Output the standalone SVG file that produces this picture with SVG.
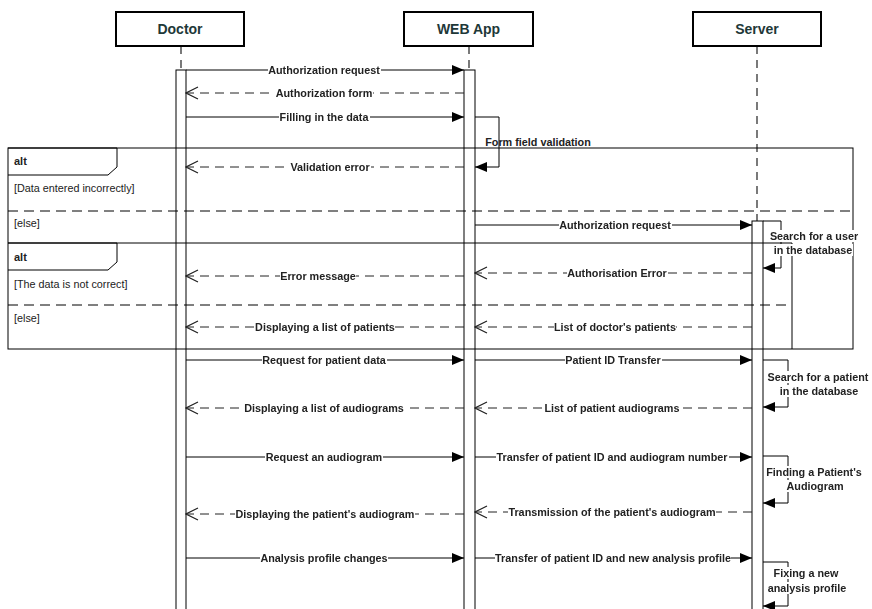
<svg xmlns="http://www.w3.org/2000/svg" width="872" height="609" viewBox="0 0 872 609">
<style>
.hdr{fill:#fff;stroke:#000;stroke-width:2}
.hl{font-family:"Liberation Sans",Arial,sans-serif;font-size:14px;font-weight:bold;fill:#1e3838;text-anchor:middle}
.lab{font-family:"Liberation Sans",Arial,sans-serif;font-size:10.8px;font-weight:bold;fill:#222;text-anchor:middle;filter:url(#bg)}
.note{font-family:"Liberation Sans",Arial,sans-serif;font-size:10.8px;font-weight:bold;fill:#222;text-anchor:middle;filter:url(#bg)}
.ft{font-family:"Liberation Sans",Arial,sans-serif;font-size:10.8px;fill:#222}
.fb{font-family:"Liberation Sans",Arial,sans-serif;font-size:11px;font-weight:bold;fill:#222}
.life{stroke:#222;stroke-width:1.2;stroke-dasharray:8 6;fill:none}
.bar{fill:#fff;stroke:#000;stroke-width:1}
.sync{stroke:#000;stroke-width:1;fill:none;marker-end:url(#fa)}
.ret{stroke:#222;stroke-width:1;fill:none;stroke-dasharray:9 6;marker-end:url(#oa)}
.frame{fill:none;stroke:#000;stroke-width:1}
.sep{fill:none;stroke:#000;stroke-width:1;stroke-dasharray:10 6}
</style>
<defs>
<filter id="bg" x="0" y="0" width="1" height="1" color-interpolation-filters="sRGB">
<feFlood flood-color="#fff"/>
<feComposite in="SourceGraphic" operator="over"/>
</filter>
<marker id="fa" markerUnits="userSpaceOnUse" markerWidth="12" markerHeight="10" viewBox="0 0 12 10" refX="12" refY="5" orient="auto">
<path d="M0,0 L12,5 L0,10 z" fill="#000"/>
</marker>
<marker id="oa" markerUnits="userSpaceOnUse" markerWidth="14" markerHeight="14" viewBox="-1 -1 14 14" refX="12" refY="6" orient="auto">
<path d="M0,0 L12,6 L0,12" fill="none" stroke="#222" stroke-width="1.2"/>
</marker>
</defs>
<rect width="872" height="609" fill="#fff"/>

<g id="lifelines">
<line class="life" x1="181" y1="46" x2="181" y2="70"/>
<line class="life" x1="469" y1="46" x2="469" y2="70"/>
<line class="life" x1="757" y1="46" x2="757" y2="221"/>
</g>

<g id="doctor">
<rect class="hdr" x="116" y="12" width="128" height="34"/>
<text class="hl" x="180" y="34">Doctor</text>
<rect class="bar" x="176" y="70" width="10" height="545"/>
</g>
<g id="webapp">
<rect class="hdr" x="404" y="12" width="129" height="34"/>
<text class="hl" x="468.5" y="34">WEB App</text>
<rect class="bar" x="464" y="70" width="11" height="545"/>
</g>
<g id="server">
<rect class="hdr" x="693" y="12" width="128" height="34"/>
<text class="hl" x="757" y="34">Server</text>
<rect class="bar" x="752" y="221" width="11" height="394"/>
</g>

<g id="frames">
<rect class="frame" x="8" y="148" width="845" height="201"/>
<path class="frame" d="M8,148 H117 V167 L108,175 H8"/>
<text class="fb" x="14" y="165">alt</text>
<text class="ft" x="14" y="192">[Data entered incorrectly]</text>
<line class="sep" x1="8" y1="211" x2="853" y2="211"/>
<text class="ft" x="14" y="227">[else]</text>
<path class="frame" d="M8,243 H792 V349"/>
<path class="frame" d="M8,243 H117 V262 L108,270 H8"/>
<text class="fb" x="14" y="261">alt</text>
<text class="ft" x="14" y="288">[The data is not correct]</text>
<line class="sep" x1="8" y1="305" x2="792" y2="305"/>
<text class="ft" x="14" y="322">[else]</text>
</g>

<g id="connectors">
<line class="sync" x1="186" y1="70" x2="464" y2="70"/>
<line class="ret" x1="464" y1="93" x2="186" y2="93"/>
<line class="sync" x1="186" y1="117" x2="464" y2="117"/>
<polyline class="sync" points="475,117 499,117 499,167 475,167"/>
<line class="ret" x1="464" y1="167" x2="186" y2="167"/>
<line class="sync" x1="475" y1="225" x2="752" y2="225"/>
<polyline class="sync" points="763,221 781,221 781,268 763,268"/>
<line class="ret" x1="752" y1="273" x2="475" y2="273"/>
<line class="ret" x1="464" y1="276" x2="186" y2="276"/>
<line class="ret" x1="752" y1="327" x2="475" y2="327"/>
<line class="ret" x1="464" y1="327" x2="186" y2="327"/>
<line class="sync" x1="186" y1="360" x2="464" y2="360"/>
<line class="sync" x1="475" y1="360" x2="752" y2="360"/>
<polyline class="sync" points="763,360 788,360 788,407 763,407"/>
<line class="ret" x1="752" y1="408" x2="475" y2="408"/>
<line class="ret" x1="464" y1="408" x2="186" y2="408"/>
<line class="sync" x1="186" y1="457" x2="464" y2="457"/>
<line class="sync" x1="475" y1="457" x2="752" y2="457"/>
<polyline class="sync" points="763,456 788,456 788,503 763,503"/>
<line class="ret" x1="752" y1="512" x2="475" y2="512"/>
<line class="ret" x1="464" y1="514" x2="186" y2="514"/>
<line class="sync" x1="186" y1="558" x2="464" y2="558"/>
<line class="sync" x1="475" y1="558" x2="752" y2="558"/>
<polyline class="sync" points="763,562 788,562 788,606 763,606"/>
</g>

<g id="labels">
<text class="lab" x="324" y="74">Authorization request</text>
<text class="lab" x="324" y="97">Authorization form</text>
<text class="lab" x="324" y="121">Filling in the data</text>
<text class="lab" x="538" y="146" style="filter:none">Form field validation</text>
<text class="lab" x="330" y="171">Validation error</text>
<text class="lab" x="615" y="229">Authorization request</text>
<text class="note" x="814" y="240">Search for a user</text>
<text class="note" x="813" y="254">in the database</text>
<text class="lab" x="617" y="277">Authorisation Error</text>
<text class="lab" x="318" y="280">Error message</text>
<text class="lab" x="615" y="331">List of doctor's patients</text>
<text class="lab" x="325" y="331">Displaying a list of patients</text>
<text class="lab" x="324" y="364">Request for patient data</text>
<text class="lab" x="613" y="364">Patient ID Transfer</text>
<text class="note" x="818" y="381">Search for a patient</text>
<text class="note" x="819" y="395">in the database</text>
<text class="lab" x="612" y="412">List of patient audiograms</text>
<text class="lab" x="324" y="412">Displaying a list of audiograms</text>
<text class="lab" x="324" y="461">Request an audiogram</text>
<text class="lab" x="612" y="461">Transfer of patient ID and audiogram number</text>
<text class="note" x="814" y="476">Finding a Patient's</text>
<text class="note" x="815" y="490">Audiogram</text>
<text class="lab" x="612" y="516">Transmission of the patient's audiogram</text>
<text class="lab" x="325" y="518">Displaying the patient's audiogram</text>
<text class="lab" x="324" y="562">Analysis profile changes</text>
<text class="lab" x="613" y="562">Transfer of patient ID and new analysis profile</text>
<text class="note" x="806" y="577">Fixing a new</text>
<text class="note" x="807" y="592">analysis profile</text>
</g>
</svg>
